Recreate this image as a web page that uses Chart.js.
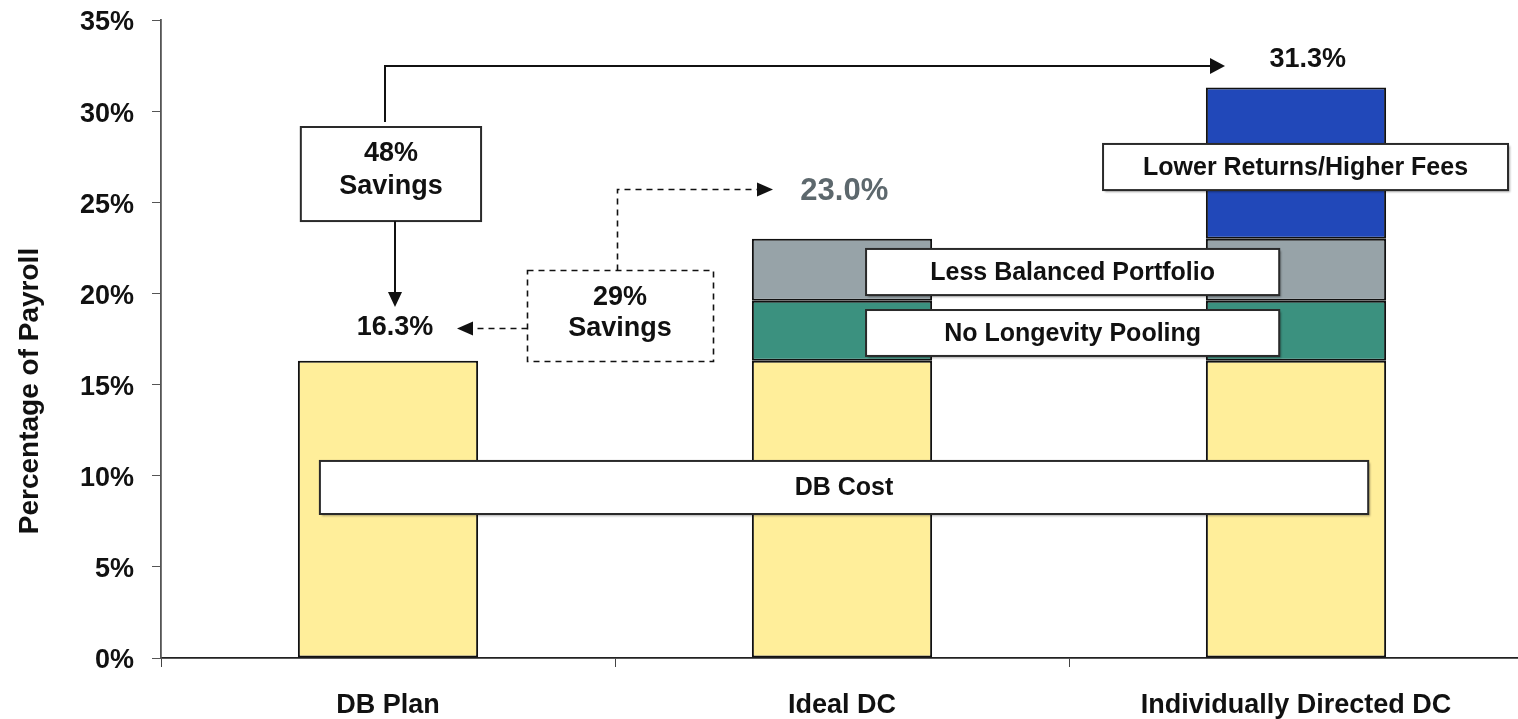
<!DOCTYPE html>
<html>
<head>
<meta charset="utf-8">
<title>Pension cost as percentage of payroll</title>
<script src="https://cdn.jsdelivr.net/npm/chart.js@4.4.1/dist/chart.umd.min.js"></script>
<style>
  html, body { margin: 0; padding: 0; background: #fff; overflow: hidden; }
  #wrap { width: 1523px; height: 719px; }
</style>
</head>
<body>
<div id="wrap"><canvas id="c" width="1523" height="719"></canvas></div>
<script>
// Plan types along the x axis
const categories = ['DB Plan', 'Ideal DC', 'Individually Directed DC'];

// Cost components, % of payroll (stacked)
const dbCost = [16.3, 16.3, 16.3];
const noLongevityPooling = [null, 3.3, 3.3];
const lessBalancedPortfolio = [null, 3.4, 3.4];
const lowerReturnsHigherFees = [null, null, 8.3];

// Y axis ticks (%)
const yTicks = [0, 5, 10, 15, 20, 25, 30, 35];

// Segment captions
const componentNames = ['DB Cost', 'No Longevity Pooling', 'Less Balanced Portfolio', 'Lower Returns/Higher Fees'];

const FONT = '"Liberation Sans", Arial, Helvetica, sans-serif';

const totals = categories.map((_, i) =>
  [dbCost, noLongevityPooling, lessBalancedPortfolio, lowerReturnsHigherFees]
    .reduce((s, arr) => s + (arr[i] || 0), 0));
const pct = v => v.toFixed(1) + '%';
const savings = v => Math.round((1 - totals[0] / v) * 100) + '%';

function arrowHead(ctx, x, y, dir, len, half) {
  ctx.beginPath();
  if (dir === 'right') { ctx.moveTo(x, y); ctx.lineTo(x - len, y - half); ctx.lineTo(x - len, y + half); }
  if (dir === 'left')  { ctx.moveTo(x, y); ctx.lineTo(x + len, y - half); ctx.lineTo(x + len, y + half); }
  if (dir === 'down')  { ctx.moveTo(x, y); ctx.lineTo(x - half, y - len); ctx.lineTo(x + half, y - len); }
  ctx.closePath();
  ctx.fill();
}

function labelBox(ctx, x0, x1, y0, y1, text, size, shadow) {
  ctx.save();
  if (shadow) {
    ctx.shadowColor = 'rgba(0,0,0,0.35)';
    ctx.shadowOffsetX = 2; ctx.shadowOffsetY = 2; ctx.shadowBlur = 2;
  }
  ctx.fillStyle = '#fff';
  ctx.fillRect(x0, y0, x1 - x0, y1 - y0);
  ctx.restore();
  ctx.save();
  ctx.strokeStyle = '#2a2a2a';
  ctx.lineWidth = 2;
  ctx.strokeRect(x0, y0, x1 - x0, y1 - y0);
  if (text) {
    ctx.fillStyle = '#111';
    ctx.font = 'bold ' + size + 'px ' + FONT;
    ctx.textAlign = 'center';
    ctx.textBaseline = 'middle';
    ctx.fillText(text, (x0 + x1) / 2, (y0 + y1) / 2 + 1);
  }
  ctx.restore();
}

const annotations = {
  id: 'annotations',
  afterDatasetsDraw(chart) {
    const ctx = chart.ctx;
    const xs = chart.scales.x, ys = chart.scales.y;
    const X = v => xs.getPixelForValue(v);
    const Y = v => ys.getPixelForValue(v);

    ctx.save();
    // Segment captions
    labelBox(ctx, X(-0.150), X(2.159), Y(10.81), Y(7.90), componentNames[0], 25, true);
    labelBox(ctx, X(1.053), X(1.963), Y(19.09), Y(16.57), componentNames[1], 25, true);
    labelBox(ctx, X(1.053), X(1.963), Y(22.44), Y(19.91), componentNames[2], 25, true);
    labelBox(ctx, X(1.575), X(2.467), Y(28.20), Y(25.67), componentNames[3], 25, true);

    // Totals above bars
    ctx.textAlign = 'center';
    ctx.textBaseline = 'middle';
    ctx.fillStyle = '#111';
    ctx.font = 'bold 27px ' + FONT;
    ctx.fillText(pct(totals[0]), X(0.0154), Y(totals[0]) - 33);
    ctx.fillText(pct(totals[2]), X(2.026), Y(totals[2]) - 28);
    ctx.fillStyle = '#5d686d';
    ctx.font = 'bold 31px ' + FONT;
    ctx.fillText(pct(totals[1]), X(1.005), Y(totals[1]) - 47);

    // Solid path: DB Plan -> Individually Directed DC
    ctx.strokeStyle = '#111';
    ctx.fillStyle = '#111';
    ctx.lineWidth = 2;
    const sx = Math.round(X(-0.0066));
    const topY = Math.round(Y(32.48));
    const tipX = X(1.8436);
    ctx.beginPath();
    ctx.moveTo(sx, Y(29.40));
    ctx.lineTo(sx, topY);
    ctx.lineTo(tipX - 14, topY);
    ctx.stroke();
    arrowHead(ctx, tipX, topY, 'right', 15, 8);

    labelBox(ctx, X(-0.192), X(0.205), Y(29.13), Y(23.97), null, 0, false);
    ctx.fillStyle = '#111';
    ctx.font = 'bold 27px ' + FONT;
    ctx.fillText(savings(totals[2]), X(0.0066), Y(27.70));
    ctx.fillText('Savings', X(0.0066), Y(25.84));

    const dx = Math.round(X(0.0154));
    const dTip = Y(19.26);
    ctx.beginPath();
    ctx.moveTo(dx, Y(23.97));
    ctx.lineTo(dx, dTip - 14);
    ctx.stroke();
    arrowHead(ctx, dx, dTip, 'down', 15, 7);

    // Dashed path: Ideal DC -> DB Plan
    ctx.setLineDash([6, 5]);
    ctx.lineWidth = 1.6;
    const bx0 = Math.round(X(0.306)) + 0.5, bx1 = Math.round(X(0.716)) + 0.5;
    const by0 = Math.round(Y(21.28)) + 0.5, by1 = Math.round(Y(16.29)) + 0.5;
    ctx.strokeRect(bx0, by0, bx1 - bx0, by1 - by0);

    const ux = Math.round(X(0.504)) + 0.5;
    const uy = Math.round(Y(25.73)) + 0.5;
    const uTip = X(0.848);
    ctx.beginPath();
    ctx.moveTo(ux, by0);
    ctx.lineTo(ux, uy);
    ctx.lineTo(uTip - 16, uy);
    ctx.stroke();

    const ly = Math.round(Y(18.10)) + 0.5;
    const lTip = X(0.152);
    ctx.beginPath();
    ctx.moveTo(bx0, ly);
    ctx.lineTo(lTip + 16, ly);
    ctx.stroke();
    ctx.setLineDash([]);
    arrowHead(ctx, uTip, uy, 'right', 16, 7);
    arrowHead(ctx, lTip, ly, 'left', 16, 7);

    ctx.fillText(savings(totals[1]), X(0.511), Y(19.80));
    ctx.fillText('Savings', X(0.511), Y(18.10));

    // Y axis title
    ctx.save();
    ctx.translate(30, 391);
    ctx.rotate(-Math.PI / 2);
    ctx.font = 'bold 28px ' + FONT;
    ctx.fillStyle = '#111';
    ctx.fillText('Percentage of Payroll', 0, 0);
    ctx.restore();

    ctx.restore();
  }
};

const barStyle = { borderColor: '#111', borderWidth: 2, borderSkipped: false,
                   barPercentage: 0.397, categoryPercentage: 1.0 };

new Chart(document.getElementById('c'), {
  type: 'bar',
  data: {
    labels: categories,
    datasets: [
      Object.assign({ label: componentNames[0], data: dbCost, backgroundColor: '#FFEE9A' }, barStyle),
      Object.assign({ label: componentNames[1], data: noLongevityPooling, backgroundColor: '#3B917F' }, barStyle),
      Object.assign({ label: componentNames[2], data: lessBalancedPortfolio, backgroundColor: '#97A3A8' }, barStyle),
      Object.assign({ label: componentNames[3], data: lowerReturnsHigherFees, backgroundColor: '#2148B9' }, barStyle)
    ]
  },
  options: {
    responsive: false,
    devicePixelRatio: 1,
    animation: false,
    layout: { padding: { top: 20, right: 0, left: 0, bottom: 0 } },
    plugins: { legend: { display: false }, tooltip: { enabled: false } },
    scales: {
      x: {
        stacked: true,
        grid: { display: true, drawOnChartArea: false, drawTicks: true, tickLength: 9,
                color: '#444', tickColor: '#444', offset: true },
        border: { display: true, color: '#222', width: 1.8 },
        ticks: { color: '#111', padding: 22, font: { family: FONT, size: 27, weight: 'bold' } },
        afterFit(scale) { scale.height = 61; scale.paddingLeft = 0; scale.paddingRight = 0; }
      },
      y: {
        stacked: true,
        min: yTicks[0],
        max: yTicks[yTicks.length - 1],
        afterBuildTicks(scale) { scale.ticks = yTicks.map(v => ({ value: v })); },
        grid: { display: true, drawOnChartArea: false, drawTicks: true, tickLength: 9,
                color: '#555', tickColor: '#555' },
        border: { display: true, color: '#555', width: 1.8 },
        ticks: { color: '#111', padding: 18, labelOffset: 3, callback: v => v + '%',
                 font: { family: FONT, size: 27, weight: 'bold' } },
        afterFit(scale) { scale.width = 161; scale.paddingTop = 0; scale.paddingBottom = 0; }
      }
    }
  },
  plugins: [annotations]
});
</script>
</body>
</html>
